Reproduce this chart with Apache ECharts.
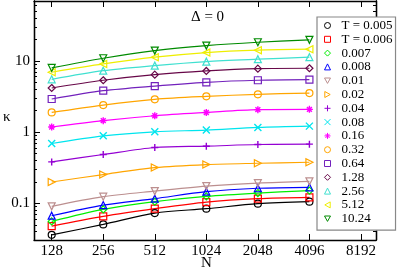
<!DOCTYPE html>
<html>
<head>
<meta charset="utf-8">
<script src="https://cdn.jsdelivr.net/npm/echarts@6/dist/echarts.min.js"></script>
<style>html,body{margin:0;padding:0;background:#fff}#c{width:399px;height:269px}</style>
</head>
<body>
<div id="c"></div>
<script>
var sizesN = [128, 256, 512, 1024, 2048, 4096];
var xTickLabels = [128, 256, 512, 1024, 2048, 4096, 8192];
var yTickLabels = [0.1, 1, 10];
var yMinorTicks = [0.04,0.05,0.06,0.07,0.08,0.09,0.2,0.3,0.4,0.5,0.6,0.7,0.8,0.9,2,3,4,5,6,7,8,9,20,30,40,50,60];
var seriesNames = ['T = 0.005','T = 0.006','0.007','0.008','0.01','0.02','0.04','0.08','0.16','0.32','0.64','1.28','2.56','5.12','10.24'];
var k0005 = [0.0362,0.0506,0.073,0.0842,0.099,0.1057];
var k0006 = [0.0479,0.0656,0.0842,0.1043,0.1165,0.1215];
var k0007 = [0.0558,0.0823,0.1057,0.1255,0.1397,0.151];
var k0008 = [0.0671,0.0946,0.1165,0.146,0.163,0.168];
var k001  = [0.0907,0.124,0.149,0.175,0.193,0.204];
var k002  = [0.1995,0.254,0.318,0.351,0.366,0.378];
var k004  = [0.382,0.485,0.609,0.635,0.671,0.678];
var k008  = [0.693,0.887,1.01,1.07,1.165,1.215];
var k016  = [1.18,1.45,1.70,1.89,2.07,2.09];
var k032  = [1.89,2.40,2.89,3.18,3.40,3.54];
var k064  = [2.92,3.82,4.44,5.01,5.35,5.45];
var k128  = [4.17,5.35,6.41,7.23,7.79,7.89];
var k256  = [5.52,7.30,8.59,9.78,10.57,11.28];
var k512  = [6.93,9.07,11.28,13.09,14.15,14.6];
var k1024 = [7.97,10.9,13.96,16.4,18.3,19.8];
var allK = [k0005,k0006,k0007,k0008,k001,k002,k004,k008,k016,k032,k064,k128,k256,k512,k1024];

var colors = ['#000000','#ff0000','#00ee00','#0000ff','#bc8f8f','#ffa500','#9400d3','#00e5ee','#ff00ff','#ffa500','#7221bc','#670748','#40e0d0','#eeee00','#008b00'];
var triDown = 'path://M0,0L10,0L5,9Z';
var triLeft = 'path://M9,0L9,10L0,5Z';
var triRight = 'path://M0,0L0,10L9,5Z';
var plusP = 'path://M5,0V10M0,5H10';
var crossP = 'path://M0,0L10,10M10,0L0,10';
var starP = 'path://M5,0V10M0,5H10M1.5,1.5L8.5,8.5M8.5,1.5L1.5,8.5';
var symbols = ['circle','rect','diamond','triangle',triDown,triRight,plusP,crossP,starP,'circle','rect','diamond','triangle',triLeft,triDown];
var strokeOnly = [false,false,false,false,false,false,true,true,true,false,false,false,false,false,false];

var font = 'Liberation Serif';
var series = allK.map(function (arr, i) {
  return {
    name: seriesNames[i],
    type: 'line',
    xAxisIndex: 0,
    yAxisIndex: 0,
    data: arr.map(function (v, j) { return [sizesN[j], v]; }),
    smooth: 0.3,
    symbol: symbols[i],
    symbolSize: 7,
    showAllSymbol: true,
    lineStyle: { color: colors[i], width: 1.2 },
    itemStyle: { color: 'rgba(0,0,0,0)', borderColor: colors[i], borderWidth: strokeOnly[i] ? 1.4 : 1.2 },
    emphasis: { disabled: true },
    z: 3
  };
});

var xCommon = {
  type: 'log', logBase: 2, min: 100.9, max: 10028,
  axisLine: { show: true, lineStyle: { color: '#000', width: 1.3 } },
  splitLine: { show: false },
  axisTick: { show: true, inside: true, length: 6, customValues: xTickLabels, lineStyle: { color: '#000', width: 1 } }
};
var yBase = {
  type: 'log', min: 0.0306, max: 69.4,
  splitLine: { show: false }
};
function yAxisOf(pos, major, showLab) {
  return Object.assign({}, yBase, {
    position: pos,
    axisLine: { show: true, lineStyle: { color: '#000', width: 1.3 } },
    axisTick: { show: true, inside: true, length: major ? 6 : 3, customValues: major ? yTickLabels : yMinorTicks, lineStyle: { color: '#000', width: 1 } },
    axisLabel: showLab ? { show: true, customValues: yTickLabels, margin: 4, fontFamily: font, fontSize: 15, color: '#000', formatter: function (v) { return String(v); } } : { show: false }
  });
}

var option = {
  animation: false,
  backgroundColor: '#fff',
  grid: { left: 34, right: 23, top: 1, bottom: 29, containLabel: false, outerBoundsMode: 'none' },
  xAxis: [
    Object.assign({}, xCommon, {
      position: 'bottom',
      axisLabel: { show: true, customValues: xTickLabels, margin: 4, fontFamily: font, fontSize: 15, color: '#000', formatter: function (v) { return String(Math.round(v)); } }
    }),
    Object.assign({}, xCommon, { position: 'top', axisLabel: { show: false } })
  ],
  yAxis: [
    yAxisOf('left', true, true),
    yAxisOf('left', false, false),
    yAxisOf('right', true, false),
    yAxisOf('right', false, false)
  ],
  legend: {
    orient: 'vertical',
    left: 317, top: 17,
    backgroundColor: '#fff',
    borderColor: '#888', borderWidth: 1.2,
    padding: [2, 3, 5, 7],
    itemWidth: 6, itemHeight: 6, itemGap: 0.8,
    symbolKeepAspect: true,
    selectedMode: false,
    formatter: function (n) { return '{s|}{t|' + n + '}'; },
    textStyle: {
      fontFamily: font, fontSize: 13, color: '#000', lineHeight: 12,
      rich: {
        s: { width: 6, lineHeight: 12, fontSize: 13, fontFamily: font },
        t: { lineHeight: 12, fontSize: 13, fontFamily: font, color: '#000' }
      }
    },
    data: seriesNames.map(function (n, i) {
      return { name: n, icon: symbols[i], itemStyle: { color: 'rgba(0,0,0,0)', borderColor: colors[i], borderWidth: 1 } };
    })
  },
  graphic: [{
    type: 'text', left: 191, top: 10,
    style: { text: 'Δ = 0', fontFamily: font, fontSize: 15, fill: '#000' }
  }, {
    type: 'text', left: 3, top: 110,
    style: { text: 'κ', fontFamily: font, fontSize: 15, fill: '#000' }
  }, {
    type: 'text', left: 201, top: 256,
    style: { text: 'N', fontFamily: font, fontSize: 15, fill: '#000' }
  }],
  series: series
};
var chart = echarts.init(document.getElementById('c'), null, { renderer: 'canvas' });
chart.setOption(option);
</script>
</body>
</html>
